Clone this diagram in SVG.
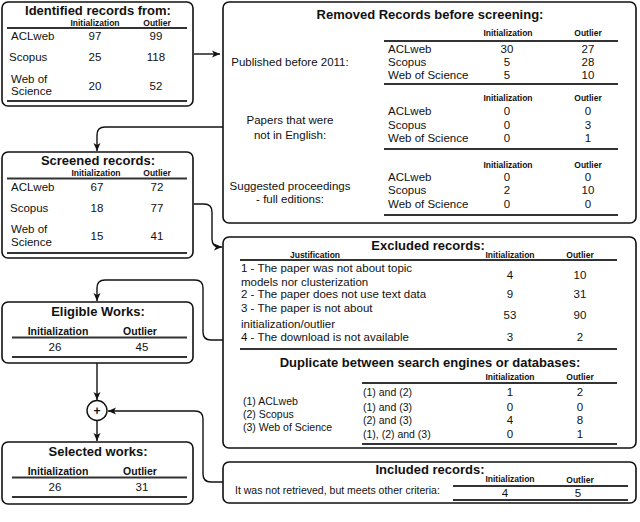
<svg xmlns="http://www.w3.org/2000/svg" width="640" height="522" viewBox="0 0 640 522">
<style>
text{font-family:"Liberation Sans",Arial,sans-serif;fill:#111}
.box{fill:#fff;stroke:#111;stroke-width:1.6}
.rule{stroke:#333;stroke-width:2}
.t{font-size:13px;font-weight:bold;text-anchor:middle}
.h{font-size:8.5px;font-weight:bold;text-anchor:middle}
.h2{font-size:10.5px;font-weight:bold;text-anchor:middle}
.r{font-size:11.5px}
.s{font-size:10.5px}
.c{text-anchor:middle}
.con{fill:none;stroke:#111;stroke-width:1.4}
</style>
<defs>
<marker id="ah" markerWidth="9" markerHeight="8" refX="8" refY="4" orient="auto" markerUnits="userSpaceOnUse">
<path d="M0,0.5 L8,4 L0,7.5 L2,4 z" fill="#111"/>
</marker>
</defs>
<rect width="640" height="522" fill="#fff"/>

<g id="connectors">
<path class="con" d="M194,54 H220" marker-end="url(#ah)"/>
<path class="con" d="M223,127 H105 Q97,127 97,135 V151" marker-end="url(#ah)"/>
<path class="con" d="M194,204 H204 Q212,204 212,212 V239 Q212,247 220,247 H222" marker-end="url(#ah)"/>
<path class="con" d="M223,340 H211 Q203,340 203,332 V288 Q203,280 195,280 H105 Q97,280 97,288 V301" marker-end="url(#ah)"/>
<path class="con" d="M97,363 V400" marker-end="url(#ah)"/>
<path class="con" d="M97,421 V441" marker-end="url(#ah)"/>
<path class="con" d="M223,482 H211 Q203,482 203,474 V419 Q203,411 195,411 H108" marker-end="url(#ah)"/>
</g>

<g id="identified">
<rect class="box" x="2" y="2" width="191" height="104" rx="6"/>
<text class="t" x="98" y="15">Identified records from:</text>
<text class="h" x="95" y="25.5">Initialization</text>
<text class="h" x="157" y="25.5">Outlier</text>
<line class="rule" x1="7" y1="28" x2="187" y2="28"/>
<text class="r" x="11" y="40">ACLweb</text>
<text class="r c" x="95" y="40">97</text>
<text class="r c" x="156" y="40">99</text>
<text class="r" x="9" y="61">Scopus</text>
<text class="r c" x="95" y="61">25</text>
<text class="r c" x="156" y="61">118</text>
<text class="r" x="11" y="83">Web of</text>
<text class="r" x="11" y="95">Science</text>
<text class="r c" x="95" y="90">20</text>
<text class="r c" x="156" y="90">52</text>
<line class="rule" x1="7" y1="101" x2="187" y2="101"/>
</g>

<g id="removed">
<rect class="box" x="223" y="2" width="413" height="221" rx="6"/>
<text class="t" x="430" y="19">Removed Records before screening:</text>
<text class="h" x="508" y="36">Initialization</text>
<text class="h" x="588" y="36">Outlier</text>
<line class="rule" x1="384" y1="41" x2="618" y2="41"/>
<text class="r c" x="290" y="66">Published before 2011:</text>
<text class="r" x="388" y="52.5">ACLweb</text>
<text class="r c" x="507" y="52.5">30</text>
<text class="r c" x="588" y="52.5">27</text>
<text class="r" x="388" y="66">Scopus</text>
<text class="r c" x="507" y="66">5</text>
<text class="r c" x="588" y="66">28</text>
<text class="r" x="388" y="78.5">Web of Science</text>
<text class="r c" x="507" y="78.5">5</text>
<text class="r c" x="588" y="78.5">10</text>
<line class="rule" x1="384" y1="84" x2="618" y2="84"/>
<text class="h" x="508" y="101">Initialization</text>
<text class="h" x="588" y="101">Outlier</text>
<text class="r c" x="290" y="124">Papers that were</text>
<text class="r c" x="290" y="139">not in English:</text>
<text class="r" x="388" y="115">ACLweb</text>
<text class="r c" x="507" y="115">0</text>
<text class="r c" x="588" y="115">0</text>
<text class="r" x="388" y="128.5">Scopus</text>
<text class="r c" x="507" y="128.5">0</text>
<text class="r c" x="588" y="128.5">3</text>
<text class="r" x="388" y="142">Web of Science</text>
<text class="r c" x="507" y="142">0</text>
<text class="r c" x="588" y="142">1</text>
<line class="rule" x1="384" y1="149" x2="618" y2="149"/>
<text class="h" x="508" y="168">Initialization</text>
<text class="h" x="588" y="168">Outlier</text>
<text class="r c" x="290" y="190">Suggested proceedings</text>
<text class="r c" x="290" y="203">- full editions:</text>
<text class="r" x="388" y="181">ACLweb</text>
<text class="r c" x="507" y="181">0</text>
<text class="r c" x="588" y="181">0</text>
<text class="r" x="388" y="194">Scopus</text>
<text class="r c" x="507" y="194">2</text>
<text class="r c" x="588" y="194">10</text>
<text class="r" x="388" y="208">Web of Science</text>
<text class="r c" x="507" y="208">0</text>
<text class="r c" x="588" y="208">0</text>
<line class="rule" x1="384" y1="215" x2="618" y2="215"/>
</g>

<g id="screened">
<rect class="box" x="2" y="152" width="191" height="106" rx="6"/>
<text class="t" x="98" y="165">Screened records:</text>
<text class="h" x="96" y="176">Initialization</text>
<text class="h" x="157" y="176">Outlier</text>
<line class="rule" x1="7" y1="178.5" x2="187" y2="178.5"/>
<text class="r" x="11" y="191">ACLweb</text>
<text class="r c" x="97" y="191">67</text>
<text class="r c" x="157" y="191">72</text>
<text class="r" x="10" y="212">Scopus</text>
<text class="r c" x="97" y="212">18</text>
<text class="r c" x="157" y="212">77</text>
<text class="r" x="11" y="233">Web of</text>
<text class="r" x="11" y="246">Science</text>
<text class="r c" x="97" y="240">15</text>
<text class="r c" x="157" y="240">41</text>
<line class="rule" x1="7" y1="253" x2="187" y2="253"/>
</g>

<g id="excluded">
<rect class="box" x="223" y="237" width="413" height="211" rx="6"/>
<text class="t" x="428" y="250">Excluded records:</text>
<text class="h" x="315" y="258">Justification</text>
<text class="h" x="510" y="258">Initialization</text>
<text class="h" x="580" y="258">Outlier</text>
<line class="rule" x1="240" y1="260" x2="617" y2="260"/>
<text class="r" x="241" y="272">1 - The paper was not about topic</text>
<text class="r" x="241" y="286">models nor clusterization</text>
<text class="r c" x="510" y="279">4</text>
<text class="r c" x="580" y="279">10</text>
<text class="r" x="241" y="298">2 - The paper does not use text data</text>
<text class="r c" x="510" y="298">9</text>
<text class="r c" x="580" y="298">31</text>
<text class="r" x="241" y="312">3 - The paper is not about</text>
<text class="r" x="241" y="328">initialization/outlier</text>
<text class="r c" x="510" y="319">53</text>
<text class="r c" x="580" y="319">90</text>
<text class="r" x="241" y="341">4 - The download is not available</text>
<text class="r c" x="510" y="341">3</text>
<text class="r c" x="580" y="341">2</text>
<line class="rule" x1="240" y1="349" x2="617" y2="349"/>
<text class="t" x="430" y="367">Duplicate between search engines or databases:</text>
<text class="h" x="510" y="380">Initialization</text>
<text class="h" x="580" y="380">Outlier</text>
<line class="rule" x1="362" y1="383" x2="617" y2="383"/>
<text class="s" x="243" y="405">(1) ACLweb</text>
<text class="s" x="243" y="418">(2) Scopus</text>
<text class="s" x="243" y="431">(3) Web of Science</text>
<text class="s" x="363" y="396">(1) and (2)</text>
<text class="r c" x="510" y="396">1</text>
<text class="r c" x="580" y="396">2</text>
<text class="s" x="363" y="410.5">(1) and (3)</text>
<text class="r c" x="510" y="410.5">0</text>
<text class="r c" x="580" y="410.5">0</text>
<text class="s" x="363" y="424">(2) and (3)</text>
<text class="r c" x="510" y="424">4</text>
<text class="r c" x="580" y="424">8</text>
<text class="s" x="363" y="437.5">(1), (2) and (3)</text>
<text class="r c" x="510" y="437.5">0</text>
<text class="r c" x="580" y="437.5">1</text>
<line class="rule" x1="362" y1="444" x2="617" y2="444"/>
</g>

<g id="eligible">
<rect class="box" x="2" y="302" width="191" height="61" rx="6"/>
<text class="t" x="98" y="316">Eligible Works:</text>
<text class="h2" x="58" y="335">Initialization</text>
<text class="h2" x="140" y="335">Outlier</text>
<line class="rule" x1="12" y1="337.5" x2="187" y2="337.5"/>
<text class="r c" x="55" y="351">26</text>
<text class="r c" x="142" y="351">45</text>
<line class="rule" x1="12" y1="357" x2="187" y2="357"/>
</g>

<g id="plus">
<circle cx="97" cy="410.5" r="10" fill="#fff" stroke="#111" stroke-width="1.4"/>
<text x="97" y="414.5" font-size="12" font-weight="bold" text-anchor="middle">+</text>
</g>

<g id="selected">
<rect class="box" x="2" y="442" width="191" height="62" rx="6"/>
<text class="t" x="98" y="456">Selected works:</text>
<text class="h2" x="58" y="475">Initialization</text>
<text class="h2" x="140" y="475">Outlier</text>
<line class="rule" x1="12" y1="477.5" x2="187" y2="477.5"/>
<text class="r c" x="55" y="491">26</text>
<text class="r c" x="142" y="491">31</text>
<line class="rule" x1="12" y1="497" x2="187" y2="497"/>
</g>

<g id="included">
<rect class="box" x="223" y="462" width="413" height="41" rx="6"/>
<text class="t" x="430" y="474">Included records:</text>
<text class="h" x="510" y="482">Initialization</text>
<text class="h" x="580" y="483">Outlier</text>
<line class="rule" x1="453" y1="486" x2="628" y2="486"/>
<text class="s" x="235" y="494">It was not retrieved, but meets other criteria:</text>
<text class="r c" x="505" y="497">4</text>
<text class="r c" x="578" y="497">5</text>
<line class="rule" x1="453" y1="500" x2="628" y2="500"/>
</g>
</svg>
